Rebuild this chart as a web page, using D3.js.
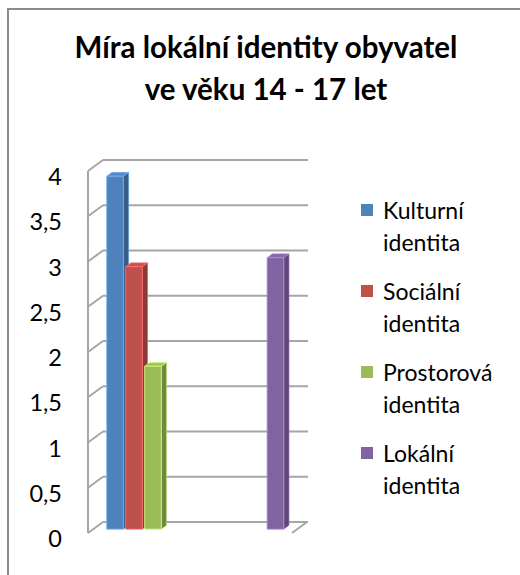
<!doctype html>
<html lang="cs">
<head>
  <meta charset="utf-8">
  <title>Míra lokální identity obyvatel ve věku 14 - 17 let</title>
  <script src="https://cdn.jsdelivr.net/npm/d3@7/dist/d3.min.js"></script>
  <style type="text/css">
    body {
      margin: 0;
      background-color: #ffffff;
    }
    svg text {
      font-family: "Lato", "Noto Sans", sans-serif;
      fill: #000000;
    }
    .title {
      font-size: 29.5px;
      font-weight: bold;
    }
    .tick {
      font-size: 23.5px;
    }
    .legend {
      font-size: 23px;
    }
    .grid {
      stroke: #a6a6a6;
      stroke-width: 2px;
      fill: none;
    }
  </style>
</head>
<body>
<div id="chart"></div>
<script type="text/javascript">

  // Chart data (two categories, the series sit in different clusters)
  var categories = ["c1", "c2"];
  var seriesNames = ["Kulturní identita", "Sociální identita", "Prostorová identita", "Lokální identita"];
  var kulturni = [3.9, null];
  var socialni = [2.9, null];
  var prostorova = [1.8, null];
  var lokalni = [null, 3.0];
  var tickValues = [0, 0.5, 1, 1.5, 2, 2.5, 3, 3.5, 4];
  var tickLabels = ["0", "0,5", "1", "1,5", "2", "2,5", "3", "3,5", "4"];

  var seriesValues = [kulturni, socialni, prostorova, lokalni];
  var colors = ["#4F81BD", "#C0504D", "#9BBB59", "#8064A2"];

  var width = 520, height = 575;

  var svg = d3.select("#chart")
    .append("svg")
    .attr("width", width)
    .attr("height", height);

  // outer chart border (runs off the right and bottom of the picture)
  svg.append("rect")
    .attr("x", 8)
    .attr("y", 9)
    .attr("width", 540)
    .attr("height", 600)
    .attr("fill", "none")
    .attr("stroke", "#8c8c8c")
    .attr("stroke-width", 2);

  // Title
  svg.append("text")
    .attr("class", "title")
    .attr("x", 266)
    .attr("y", 58)
    .attr("text-anchor", "middle")
    .text("Míra lokální identity obyvatel");
  svg.append("text")
    .attr("class", "title")
    .attr("x", 266)
    .attr("y", 100)
    .attr("text-anchor", "middle")
    .text("ve věku 14 - 17 let");

  // Scales on the front plane, depth gives a shift back and up
  var yScale = d3.scaleLinear().domain([0, 4]).range([533, 171]);
  var x0 = d3.scaleBand().domain(categories).range([88, 292])
    .paddingInner(0.29).paddingOuter(0.13);
  var x1 = d3.scaleBand().domain(seriesNames).range([0, x0.bandwidth()])
    .paddingInner(0.12);
  var depthX = 15, depthY = -11;

  function proj(x, v, d) {
    return [x + d * depthX, yScale(v) + d * depthY];
  }

  var floorLeft = 88, floorRight = 292;
  var g = svg.append("g");

  // left side wall: front edge and diagonals
  g.append("line")
    .attr("class", "grid")
    .attr("x1", floorLeft).attr("y1", yScale(0))
    .attr("x2", floorLeft).attr("y2", yScale(4));
  g.selectAll(".diag")
    .data(tickValues)
    .enter()
    .append("line")
    .attr("class", "grid")
    .attr("x1", function(d) { return proj(floorLeft, d, 0)[0]; })
    .attr("y1", function(d) { return proj(floorLeft, d, 0)[1]; })
    .attr("x2", function(d) { return proj(floorLeft, d, 1)[0]; })
    .attr("y2", function(d) { return proj(floorLeft, d, 1)[1]; });

  // back wall gridlines
  g.selectAll(".back")
    .data(tickValues)
    .enter()
    .append("line")
    .attr("class", "grid")
    .attr("x1", function(d) { return proj(floorLeft, d, 1)[0]; })
    .attr("y1", function(d) { return proj(floorLeft, d, 1)[1]; })
    .attr("x2", function(d) { return proj(floorRight, d, 1)[0] + 1; })
    .attr("y2", function(d) { return proj(floorRight, d, 1)[1]; });

  // floor right edge
  g.append("line")
    .attr("class", "grid")
    .attr("x1", proj(floorRight, 0, 0)[0]).attr("y1", proj(floorRight, 0, 0)[1])
    .attr("x2", proj(floorRight, 0, 1)[0]).attr("y2", proj(floorRight, 0, 1)[1]);

  // Tick labels
  svg.selectAll(".tick")
    .data(tickValues)
    .enter()
    .append("text")
    .attr("class", "tick")
    .attr("x", 62)
    .attr("y", function(d) { return yScale(d) + 5; })
    .attr("text-anchor", "end")
    .attr("dominant-baseline", "central")
    .text(function(d, i) { return tickLabels[i]; });

  // Bars (3D boxes), drawn left to right
  var bars = [];
  categories.forEach(function(c, ci) {
    seriesNames.forEach(function(s, si) {
      var v = seriesValues[si][ci];
      if (v != null) bars.push({ cat: c, series: s, si: si, value: v });
    });
  });

  var dFront = 0.35, dBack = 0.7;
  function pts(arr) {
    return arr.map(function(p) { return p.join(","); }).join(" ");
  }

  var barG = svg.selectAll(".bar")
    .data(bars)
    .enter()
    .append("g")
    .attr("class", "bar");

  barG.each(function(d) {
    var el = d3.select(this);
    var xl = x0(d.cat) + x1(d.series);
    var xr = xl + x1.bandwidth();
    var col = d3.color(colors[d.si]);
    var fl0 = proj(xl, 0, dFront), fr0 = proj(xr, 0, dFront);
    var flv = proj(xl, d.value, dFront), frv = proj(xr, d.value, dFront);
    var br0 = proj(xr, 0, dBack), brv = proj(xr, d.value, dBack), blv = proj(xl, d.value, dBack);
    // side face
    el.append("polygon")
      .attr("points", pts([fr0, frv, brv, br0]))
      .attr("fill", col.darker(0.9))
      .attr("stroke", col.brighter(0.6))
      .attr("stroke-width", 0.6);
    // top face
    el.append("polygon")
      .attr("points", pts([flv, frv, brv, blv]))
      .attr("fill", col.brighter(0.15))
      .attr("stroke", col.brighter(0.9))
      .attr("stroke-width", 0.6);
    // front face
    el.append("polygon")
      .attr("points", pts([fl0, flv, frv, fr0]))
      .attr("fill", col)
      .attr("stroke", col.brighter(0.9))
      .attr("stroke-width", 0.8);
  });

  // Legend
  var legend = svg.selectAll(".legendItem")
    .data(seriesNames)
    .enter()
    .append("g")
    .attr("class", "legendItem")
    .attr("transform", function(d, i) { return "translate(361," + (219 + i * 81) + ")"; });

  legend.append("rect")
    .attr("x", 0)
    .attr("y", -15)
    .attr("width", 12)
    .attr("height", 12)
    .attr("fill", function(d, i) { return colors[i]; });

  legend.append("text")
    .attr("class", "legend")
    .attr("x", 22)
    .attr("y", 0)
    .text(function(d) { return d.split(" ")[0]; });
  legend.append("text")
    .attr("class", "legend")
    .attr("x", 22)
    .attr("y", 32)
    .text(function(d) { return d.split(" ")[1]; });

</script>
</body>
</html>
